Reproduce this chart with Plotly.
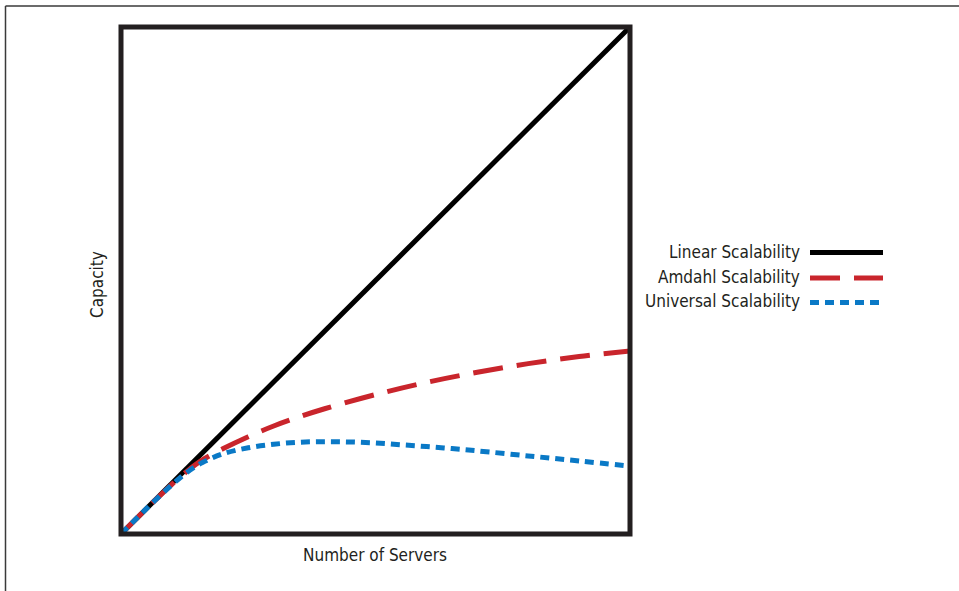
import plotly.graph_objects as go

# capacity vs number of servers (arbitrary 0-100 units)
servers_linear = [0, 100]
capacity_linear = [0, 100]

servers_amdahl = [0, 5, 10, 13, 16, 20, 25, 30, 35, 40, 50, 60, 70, 80, 90, 100]
capacity_amdahl = [0, 5, 9.8, 12.4, 14.6, 16.8, 19.2, 21.3, 23.1, 24.7, 27.5, 29.9, 31.9, 33.6, 35.0, 36.1]

servers_usl = [0, 5, 10, 13, 16, 20, 25, 30, 35, 40, 45, 50, 55, 60, 65, 70, 80, 90, 100]
capacity_usl = [0, 5, 9.7, 12.2, 14.1, 15.8, 17.0, 17.7, 18.1, 18.2, 18.15, 17.95, 17.6, 17.25, 16.85, 16.4, 15.4, 14.4, 13.4]

series_names = ["Linear Scalability", "Amdahl Scalability", "Universal Scalability"]

W, H = 959, 591
L, R, T, B = 121, 630, 26.5, 534.5
BLACK = "#000000"
RED = "#c9252c"
BLUE = "#0a79c6"
INK = "#231f20"
FONT = "DejaVu Sans Condensed, Liberation Sans Narrow, sans-serif"
FS = 17

def px(x):
    return (x - L) / (R - L)

def py(y):
    return (B - y) / (B - T)

styles = [(BLACK, "solid"), (RED, "30px,14px"), (BLUE, "9px,6px")]

fig = go.Figure()
fig.add_trace(go.Scatter(x=servers_linear, y=capacity_linear, mode="lines",
                         line=dict(color=BLACK, width=5), name=series_names[0]))
fig.add_trace(go.Scatter(x=servers_amdahl, y=capacity_amdahl, mode="lines", line_shape="spline",
                         line=dict(color=RED, width=5, dash=styles[1][1]), name=series_names[1]))
fig.add_trace(go.Scatter(x=servers_usl, y=capacity_usl, mode="lines", line_shape="spline",
                         line=dict(color=BLUE, width=5, dash=styles[2][1]), name=series_names[2]))

shapes = [
    # plot frame
    dict(type="rect", xref="paper", yref="paper", x0=0, x1=1, y0=0, y1=1,
         line=dict(color=INK, width=5), layer="above"),
    # page border (top and left)
    dict(type="line", xref="paper", yref="paper", x0=px(5.5), x1=px(960), y0=py(5.5), y1=py(5.5),
         line=dict(color="#3a3a3a", width=1.5)),
    dict(type="line", xref="paper", yref="paper", x0=px(5.5), x1=px(5.5), y0=py(5.5), y1=py(592),
         line=dict(color="#3a3a3a", width=1.5)),
]
annotations = [
    dict(text="Number of Servers", xref="paper", yref="paper", x=px(375), y=py(556),
         xanchor="center", yanchor="middle",
         showarrow=False, font=dict(family=FONT, size=FS, color=INK)),
    dict(text="Capacity", xref="paper", yref="paper", x=px(97), y=py(285), textangle=-90,
         xanchor="center", yanchor="middle",
         showarrow=False, font=dict(family=FONT, size=FS, color=INK)),
]
rows = [252.5, 278, 302.5]
for name, (col, dash), yy in zip(series_names, styles, rows):
    annotations.append(dict(text=name, xref="paper", yref="paper", x=px(802), y=py(yy - 1),
                            xanchor="right", yanchor="middle", showarrow=False,
                            font=dict(family=FONT, size=FS, color=INK)))
    shapes.append(dict(type="line", xref="paper", yref="paper", x0=px(810), x1=px(883),
                       y0=py(yy), y1=py(yy), line=dict(color=col, width=5, dash=dash)))

fig.update_layout(
    width=W, height=H,
    margin=dict(l=L, r=W - R, t=T, b=H - B),
    paper_bgcolor="white", plot_bgcolor="white",
    showlegend=False,
    xaxis=dict(range=[0, 100], showgrid=False, zeroline=False, showticklabels=False, showline=False),
    yaxis=dict(range=[0, 100], showgrid=False, zeroline=False, showticklabels=False, showline=False),
    shapes=shapes, annotations=annotations,
)

fig.write_html("out.html", config={"displayModeBar": False},
               post_script="document.body.style.margin='0';")
